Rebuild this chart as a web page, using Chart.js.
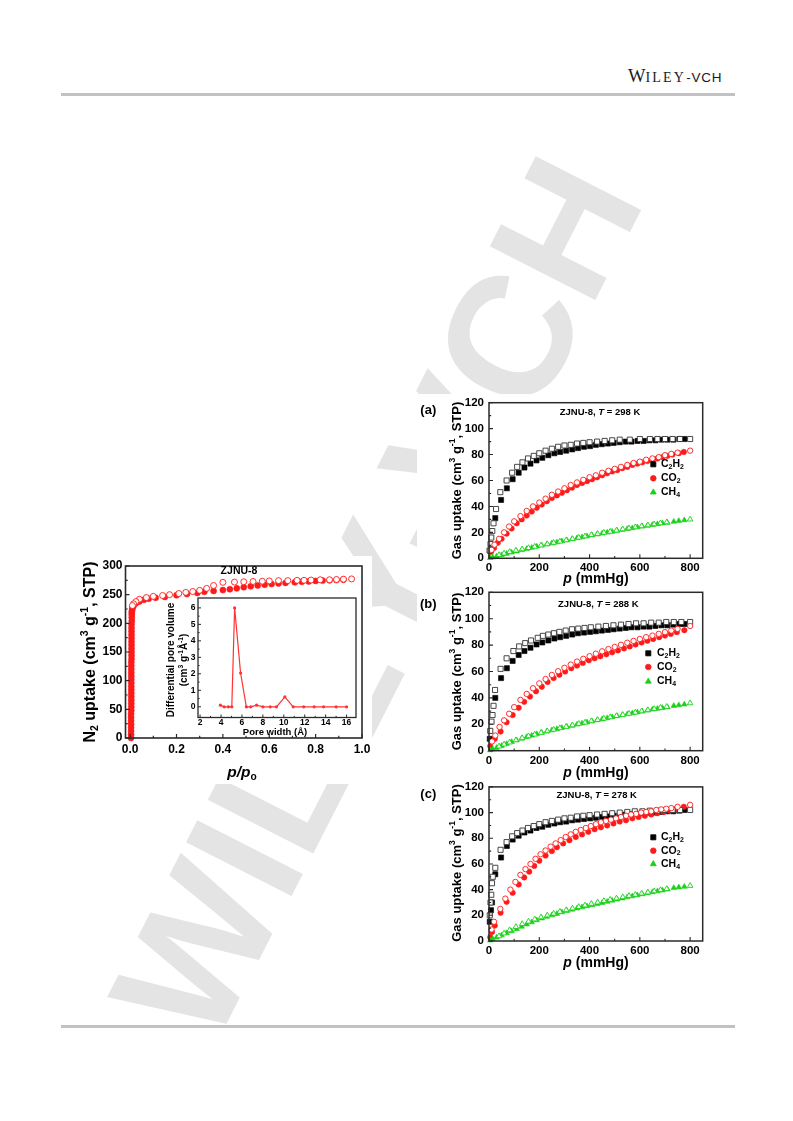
<!DOCTYPE html>
<html><head><meta charset="utf-8">
<script src="https://cdn.jsdelivr.net/npm/chart.js@4/dist/chart.umd.min.js"></script>
<style>
html,body{margin:0;padding:0;background:#fff;}
#page{position:relative;width:793px;height:1121px;overflow:hidden;background:#fff;}
canvas{position:absolute;}
.hl{position:absolute;background:#c2c2c2;height:3px;}
.fig{position:absolute;background:#fff;}
#wm{position:absolute;left:376px;top:598px;transform:translate(-50%,-50%) rotate(-63deg);font:bold 172px "Liberation Sans",Arial,sans-serif;color:#e4e4e4;white-space:nowrap;line-height:1;}
#hdr{position:absolute;left:628px;top:66px;line-height:20px;color:#1a1a1a;white-space:nowrap;}
</style></head>
<body><div id="page">
<div id="wm">WILEY-VCH</div>
<div id="hdr"><span style="font:18.5px 'Liberation Serif',serif;">W</span><span style="font:14px 'Liberation Serif',serif;letter-spacing:2.2px;">ILEY</span><span style="font:13.5px 'Liberation Sans',Arial,sans-serif;letter-spacing:0.8px;">-VCH</span></div>
<div class="hl" style="left:61px;top:93px;width:674px;"></div>
<div class="hl" style="left:61px;top:1025px;width:674px;"></div>
<div class="fig" style="left:76px;top:556px;width:296px;height:228px;"></div>
<div class="fig" style="left:417px;top:394px;width:291px;height:580px;"></div>
<canvas id="cN2" style="left:60px;top:545px;" width="320" height="240"></canvas>
<canvas id="cPSD" style="left:160px;top:590px;" width="205" height="150"></canvas>
<canvas id="cA" style="left:400px;top:380px;" width="320" height="215"></canvas>
<canvas id="cB" style="left:400px;top:580px;" width="320" height="205"></canvas>
<canvas id="cC" style="left:400px;top:775px;" width="320" height="200"></canvas>
</div>
<script>
// ---------------- DATA ----------------
// N2 isotherm at 77 K (x = p/p0, y = uptake)
const n2Ads = [[0.004,0],[0.004,6],[0.004,12],[0.004,18],[0.004,24],[0.004,30],[0.004,36],[0.004,42],[0.005,48],[0.005,54],[0.005,60],[0.005,66],[0.005,72],[0.005,78],[0.005,84],[0.005,90],[0.005,96],[0.005,102],[0.005,108],[0.005,114],[0.005,120],[0.005,126],[0.005,132],[0.006,138],[0.006,144],[0.006,150],[0.006,156],[0.006,162],[0.006,168],[0.006,174],[0.006,180],[0.006,186],[0.006,192],[0.006,198],[0.007,204],[0.007,210],[0.007,215],[0.007,219],[0.008,222],[0.009,225],[0.011,228],[0.015,231],[0.025,235],[0.04,238],[0.06,241],[0.08,243],[0.11,244.5],[0.15,246],[0.2,249],[0.245,251],[0.29,253],[0.32,255],[0.36,256.5],[0.4,258],[0.43,259.5],[0.46,261],[0.49,263],[0.52,264.5],[0.55,266],[0.58,267.5],[0.61,268.5],[0.64,269.5],[0.67,270.5],[0.71,271.5],[0.74,272.5],[0.77,273],[0.8,274],[0.83,274.5],[0.86,275],[0.89,275.5],[0.92,276]];
const n2Des = [[0.955,277.5],[0.92,277],[0.89,276.5],[0.86,276],[0.82,276],[0.78,275.5],[0.75,275],[0.72,275],[0.68,274.5],[0.64,274.5],[0.6,274],[0.57,273.5],[0.53,273],[0.49,272.5],[0.45,272],[0.4,271.5],[0.36,266],[0.33,261],[0.3,257.5],[0.27,255.5],[0.24,254],[0.21,252],[0.17,250],[0.14,248.5],[0.1,247],[0.07,245],[0.04,242],[0.025,238],[0.015,234],[0.01,231]];
// Pore size distribution (inset)
const poreWidth = [3.94,4.3,4.7,5.03,5.3,5.87,6.42,6.84,7.4,8.0,8.7,9.3,10.1,10.9,11.9,12.9,13.8,15.0,16.0];
const poreVolume = [0.1,0,0,0,6.0,2.05,0,0,0.1,0,0,0,0.6,0,0,0,0,0,0];
// Tick labels
const n2XTicks = [0,0.2,0.4,0.6,0.8,1.0];
const n2YTicks = [0,50,100,150,200,250,300];
const psdXTicks = [2,4,6,8,10,12,14,16];
const psdYTicks = [0,1,2,3,4,5,6];
const isoXTicks = [0,200,400,600,800];
const isoYTicks = [0,20,40,60,80,100,120];
const gasLabels = ['C2H2','CO2','CH4'];
const temps = [298,288,278];

// (a) 298 K  [p (mmHg), uptake]
const c2h2Ads298 = [[3,6],[25,31],[48,45],[71,54],[94,61],[118,66],[141,70],[165,73],[189,75.5],[212,77.5],[236,79.5],[260,81],[283,82],[307,83],[331,84],[354,85],[378,86],[402,86.5],[425,87.5],[449,88],[473,88.5],[496,89],[520,89.5],[544,90],[567,90],[591,90.5],[615,90.5],[638,91],[662,91],[686,91.5],[709,91.5],[733,91.5],[757,92],[777,92]];
const c2h2Des298 = [[800,92],[760,92],[730,92],[700,92],[670,92],[640,92],[600,92],[560,91.5],[520,91.5],[490,91],[460,90.5],[430,90],[400,89.5],[375,89],[350,88.5],[325,87.5],[300,87],[275,86],[250,84.5],[225,83],[200,81],[178,79],[155,77],[133,74],[112,70.5],[92,66],[70,60],[45,51],[28,38],[18,27],[13,21],[9,16],[6,11],[3,6]];
const co2Ads298 = [[8,5],[20,8],[35,12],[50,15],[70,19],[90,23],[110,27],[130,30],[150,33],[170,36],[190,39],[210,41.5],[230,44],[250,46.5],[270,48.5],[290,50.5],[310,52.5],[330,54.5],[350,56.5],[370,58],[390,59.5],[410,61],[430,62.5],[450,64],[470,65.5],[490,67],[510,68],[530,69.5],[550,70.5],[570,72],[590,73],[610,74],[630,75],[650,76],[670,77],[690,78],[710,79],[730,80],[755,81],[775,82]];
const co2Des298 = [[800,83],[750,81.5],[725,80.5],[700,79.5],[675,78],[650,77],[625,76],[600,74.5],[575,73.5],[550,72],[525,70.5],[500,69],[475,67.5],[450,66],[425,64],[400,62.5],[375,60.5],[350,58.5],[325,56.5],[300,54],[275,51.5],[250,49],[225,46],[200,43],[175,40],[150,36.5],[125,32.5],[100,28.5],[80,24.5],[60,20],[40,15],[22,10.5],[10,6.5]];
const ch4Ads298 = [[5,0.3],[15,0.8],[30,1.5],[50,2.5],[70,3.5],[90,4.5],[110,5.4],[130,6.4],[150,7.3],[170,8.2],[190,9.1],[210,10],[230,10.8],[250,11.6],[270,12.4],[290,13.2],[310,14],[330,14.8],[350,15.6],[370,16.3],[390,17],[410,17.8],[430,18.5],[450,19.2],[470,19.9],[490,20.6],[510,21.3],[530,22],[550,22.7],[570,23.3],[590,24],[610,24.6],[630,25.2],[650,25.8],[670,26.4],[690,27],[710,27.5],[735,28.3],[755,28.9],[777,29.4]];
const ch4Des298 = [[800,30],[707,27.8],[682,27.1],[657,26.3],[632,25.5],[607,24.8],[582,24],[557,23.2],[532,22.4],[507,21.5],[482,20.6],[457,19.8],[432,18.9],[407,18],[382,17],[357,16],[332,15],[307,14],[282,13],[257,12],[232,11],[207,10],[182,9],[157,8],[132,7],[107,6],[82,5],[60,3.8],[40,2.6]];

// (b) 288 K
const c2h2Ads288 = [[3,9],[25,40],[48,55],[71,62.5],[94,68],[118,72.5],[141,75.5],[165,78],[189,80.5],[212,82],[236,83.5],[260,85],[283,86],[307,87],[331,88],[354,89],[378,89.5],[402,90],[425,90.5],[449,91],[473,91.5],[496,92],[520,92.5],[544,93],[567,93.5],[591,93.5],[615,94],[638,94],[662,94.5],[686,95],[709,95],[733,95.5],[757,96],[777,96]];
const c2h2Des288 = [[800,97.5],[765,97.5],[735,97.5],[705,97.5],[675,97],[645,97],[615,96.5],[585,96.5],[555,96],[525,95.5],[495,95],[465,94.5],[435,94],[405,93.5],[380,93],[355,92.5],[330,92],[305,91],[280,90],[258,89],[236,88],[214,87],[194,85.5],[167,83.5],[144,81.5],[120,79],[97,75.5],[70,70],[46,62],[24,46],[18,34],[14,27],[10,22],[5,15]];
const co2Ads288 = [[5,3.5],[23,9],[46,14.5],[70,21.5],[94,27],[118,32.5],[140,37],[163,41],[187,45],[210,48.5],[233,52],[257,55],[280,57.5],[303,60],[327,62.5],[350,64.5],[373,66.5],[397,68.5],[420,70],[443,71.5],[467,73],[490,74.5],[513,76],[537,77.5],[560,79],[583,80.5],[607,82],[630,83.3],[653,84.6],[677,86],[700,87.2],[723,88.5],[747,89.8],[777,91.3]];
const co2Des288 = [[800,94.5],[750,92.3],[725,91],[700,89.8],[675,88.5],[650,87.2],[625,86],[600,84.6],[575,83.2],[550,81.8],[525,80.2],[500,78.6],[475,77],[450,75.3],[425,73.5],[400,71.6],[375,69.6],[350,67.5],[325,65.2],[300,62.8],[275,60.2],[250,57.4],[225,54.3],[200,51],[175,47.3],[150,43],[125,38.5],[100,33],[80,28],[60,23],[42,18],[25,11.5],[12,7]];
const ch4Ads288 = [[5,0.4],[15,1.1],[30,2.2],[50,3.7],[70,5.2],[90,6.7],[110,8],[130,9.2],[150,10.4],[170,11.5],[190,12.6],[210,13.6],[230,14.6],[250,15.5],[270,16.4],[290,17.3],[310,18.2],[330,19],[350,19.9],[370,20.7],[390,21.5],[410,22.3],[430,23.1],[450,23.9],[470,24.7],[490,25.5],[510,26.3],[530,27],[550,27.7],[570,28.4],[590,29.1],[610,29.8],[630,30.5],[650,31.2],[670,31.8],[690,32.4],[710,33],[735,34],[755,34.5],[777,35.1]];
const ch4Des288 = [[800,36],[707,33.3],[682,32.6],[657,31.7],[632,30.8],[607,29.9],[582,29],[557,28.1],[532,27.2],[507,26.3],[482,25.4],[457,24.4],[432,23.4],[407,22.4],[382,21.4],[357,20.4],[332,19.3],[307,18.2],[282,17.1],[257,16],[232,14.8],[207,13.6],[182,12.3],[157,11],[132,9.6],[107,8],[82,6.3],[60,4.8],[40,3.3]];

// (c) 278 K
const c2h2Ads278 = [[3,15],[8,24],[12,30],[25,52],[48,65],[71,74],[94,79],[118,82],[141,84.5],[165,86],[189,88],[212,89],[236,90.5],[260,91.5],[283,92.5],[307,93],[331,94],[354,94.5],[378,95],[402,95.5],[425,96],[449,96.5],[473,97],[496,97.5],[520,98],[544,98.5],[567,99],[591,99],[615,99.5],[638,100],[662,100],[686,100.5],[709,101],[733,101],[757,101.5],[777,102]];
const c2h2Des278 = [[800,102],[760,102],[730,102],[700,102],[670,101.5],[640,101.5],[610,101],[580,101],[550,100.5],[520,100],[490,99.5],[460,99],[430,98.5],[400,98],[375,97.5],[350,97],[325,96],[300,95.5],[275,94.5],[250,93.5],[225,92.5],[200,91],[178,89.5],[155,88],[133,86],[112,84],[92,81.5],[70,77],[46,71],[25,57],[15,50],[12,45],[9,36],[6,30],[3,20]];
const co2Ads278 = [[5,3],[12,7],[23,12],[46,22],[70,30.5],[94,37.5],[118,44],[140,49.5],[160,54],[180,58.5],[200,62.5],[225,66.5],[250,70],[270,73],[295,76],[320,78.5],[345,81],[370,83],[395,85],[420,87],[445,88.5],[470,90],[495,91.5],[520,93],[545,94],[570,95.5],[595,96.5],[620,97.5],[645,98.5],[670,99.5],[695,100.5],[720,101.5],[745,103],[775,104.5]];
const co2Des278 = [[800,106],[750,104.5],[725,103.5],[705,103],[685,102.5],[665,102],[645,101],[625,100.5],[605,100],[585,99],[565,98.5],[545,97.5],[525,96.5],[505,95.5],[485,94.5],[465,93.5],[445,92.5],[425,91],[405,89.5],[385,88],[365,86.5],[345,85],[325,83],[305,81],[285,78.5],[265,76],[245,73.5],[225,70.5],[205,67.5],[185,64],[165,60],[145,56],[125,51.5],[105,46],[85,40],[65,33],[45,25],[20,15],[10,9]];
const ch4Ads278 = [[5,0.5],[15,1.4],[30,2.8],[50,4.5],[70,6.2],[90,7.7],[110,9.3],[130,11.2],[150,13],[170,14.6],[190,16.2],[210,17.6],[230,18.9],[250,20.1],[270,21.2],[290,22.4],[310,23.5],[330,24.5],[350,25.4],[370,26.3],[390,27.1],[410,27.9],[430,28.8],[450,29.7],[470,30.6],[490,31.5],[510,32.4],[530,33.2],[550,34.1],[570,34.9],[590,35.7],[610,36.5],[630,37.3],[650,38.1],[670,38.8],[690,39.5],[710,40.2],[735,41.3],[755,41.8],[777,42.3]];
const ch4Des278 = [[800,43],[707,40.5],[682,39.7],[657,38.8],[632,37.9],[607,37],[582,36.1],[557,35.2],[532,34.2],[507,33.2],[482,32.2],[457,31.2],[432,30.1],[407,29],[382,27.8],[357,26.6],[332,25.4],[307,24.1],[282,22.8],[257,21.4],[232,20],[207,18.5],[182,16.9],[157,15.2],[132,13.3],[107,11],[82,8.5],[60,6],[40,3.8]];

// ---------------- HELPERS ----------------
const FONT = '"Liberation Sans", Arial, Helvetica, sans-serif';
function drawRich(ctx, t, ox, oy) {
  ctx.save();
  ctx.translate(t.x - ox, t.y - oy);
  if (t.rot) ctx.rotate(t.rot * Math.PI / 180);
  const parts = t.segs.map(seg => {
    const s = seg[0], f = seg[1] || '';
    const small = f.includes('u') || f.includes('d');
    const sz = small ? t.size * 0.66 : t.size;
    const font = (f.includes('i') ? 'italic ' : '') + (t.normal ? '' : 'bold ') + sz + 'px ' + FONT;
    ctx.font = font;
    return {s, font, w: ctx.measureText(s).width,
      dy: f.includes('u') ? -t.size * 0.36 : (f.includes('d') ? t.size * 0.26 : 0)};
  });
  const total = parts.reduce((a, p) => a + p.w, 0);
  let x = t.align === 'left' ? 0 : (t.align === 'right' ? -total : -total / 2);
  ctx.fillStyle = t.color || '#000';
  ctx.textBaseline = 'middle';
  parts.forEach(p => { ctx.font = p.font; ctx.fillText(p.s, x, p.dy); x += p.w; });
  ctx.restore();
}
function marker(ctx, style, x, y, r, color) {
  ctx.save();
  ctx.fillStyle = color; ctx.strokeStyle = color; ctx.lineWidth = 0.8;
  ctx.beginPath();
  if (style === 'rect') { const s = r * Math.SQRT1_2; ctx.rect(x - s, y - s, 2 * s, 2 * s); }
  else if (style === 'circle') { ctx.arc(x, y, r, 0, Math.PI * 2); }
  else { ctx.moveTo(x, y - r); ctx.lineTo(x + r * 0.866, y + r * 0.5); ctx.lineTo(x - r * 0.866, y + r * 0.5); ctx.closePath(); }
  ctx.fill(); ctx.stroke();
  ctx.restore();
}
const deco = {
  id: 'deco',
  afterDraw(chart, args, o) {
    const ctx = chart.ctx, a = chart.chartArea;
    const xs = chart.scales.x, ys = chart.scales.y;
    ctx.save();
    ctx.strokeStyle = '#2a2a2a';
    ctx.lineWidth = o.frameW;
    ctx.strokeRect(a.left, a.top, a.right - a.left, a.bottom - a.top);
    ctx.lineWidth = o.tickW;
    ctx.beginPath();
    o.xMajor.forEach(v => { const p = xs.getPixelForValue(v); ctx.moveTo(p, a.bottom); ctx.lineTo(p, a.bottom - o.tl); });
    o.xMinor.forEach(v => { const p = xs.getPixelForValue(v); ctx.moveTo(p, a.bottom); ctx.lineTo(p, a.bottom - o.tl * 0.55); });
    o.yMajor.forEach(v => { const p = ys.getPixelForValue(v); ctx.moveTo(a.left, p); ctx.lineTo(a.left + o.tl, p); });
    o.yMinor.forEach(v => { const p = ys.getPixelForValue(v); ctx.moveTo(a.left, p); ctx.lineTo(a.left + o.tl * 0.55, p); });
    ctx.stroke();
    ctx.restore();
    (o.texts || []).forEach(t => drawRich(ctx, t, o.ox, o.oy));
    (o.legend || []).forEach(l => {
      marker(ctx, l.style, l.x - o.ox, l.y - o.oy, l.r, l.color);
      drawRich(ctx, {x: l.tx, y: l.y, size: l.size, align: 'left', segs: l.segs}, o.ox, o.oy);
    });
  }
};
function fixedTicks(arr) { return s => { s.ticks = arr.map(v => ({value: v})); }; }
function mids(arr) { const r = []; for (let i = 0; i < arr.length - 1; i++) r.push((arr[i] + arr[i + 1]) / 2); return r; }
function pts(arr) { return arr.map(p => ({x: p[0], y: p[1]})); }
function ds(data, style, color, filled, r, order) {
  return {data: pts(data), showLine: false, pointStyle: style, pointRadius: r, pointHoverRadius: r,
    pointBackgroundColor: filled ? color : '#ffffff', pointBorderColor: color, pointBorderWidth: filled ? 0.6 : 0.9,
    clip: false, order: order};
}
function gasSegs(name) {
  if (name === 'C2H2') return [['C'], ['2', 'd'], ['H'], ['2', 'd']];
  if (name === 'CO2') return [['CO'], ['2', 'd']];
  return [['CH'], ['4', 'd']];
}

// ---------------- N2 CHART ----------------
const n2Box = {left: 60, top: 545, w: 320, h: 240};
new Chart(document.getElementById('cN2'), {
  type: 'scatter',
  data: {datasets: [ds(n2Des, 'circle', '#ff1a1a', false, 3, 1), ds(n2Ads, 'circle', '#ff1a1a', true, 3, 2)]},
  options: {
    responsive: false, animation: false, events: [],
    layout: {padding: {left: 0, top: 21, right: 18, bottom: 0}},
    plugins: {legend: {display: false}, tooltip: {enabled: false},
      deco: {ox: n2Box.left, oy: n2Box.top, frameW: 1.6, tickW: 1.2, tl: 4,
        xMajor: n2XTicks, xMinor: mids(n2XTicks), yMajor: n2YTicks, yMinor: mids(n2YTicks),
        texts: [
          {x: 90.5, y: 652, rot: -90, size: 16, segs: [['N'], ['2', 'd'], [' uptake (cm'], ['3', 'u'], [' g'], ['-1', 'u'], [', STP)']]},
          {x: 242, y: 773, size: 15.5, segs: [['p/p', 'i'], ['o', 'd']]},
          {x: 239, y: 571.5, size: 10.5, segs: [['ZJNU-8']]}
        ]}},
    scales: {
      x: {type: 'linear', min: -0.02, max: 1.0, afterBuildTicks: fixedTicks(n2XTicks), afterFit: s => { s.height = 47; },
        grid: {display: false, drawTicks: false}, border: {display: false},
        ticks: {color: '#000', padding: 4, maxRotation: 0, autoSkip: false, font: {family: FONT, size: 12, weight: 'bold'}, callback: v => v.toFixed(1)}},
      y: {type: 'linear', min: 0, max: 300, afterBuildTicks: fixedTicks(n2YTicks), afterFit: s => { s.width = 65.5; },
        grid: {display: false, drawTicks: false}, border: {display: false},
        ticks: {color: '#000', padding: 3, autoSkip: false, font: {family: FONT, size: 12, weight: 'bold'}}}
    }
  },
  plugins: [deco]
});

// ---------------- INSET PSD ----------------
const psdBox = {left: 160, top: 590};
new Chart(document.getElementById('cPSD'), {
  type: 'scatter',
  data: {datasets: [{data: poreWidth.map((w, i) => ({x: w, y: poreVolume[i]})), showLine: true, borderColor: '#ff3333', borderWidth: 1.2,
    pointRadius: 1.6, pointBackgroundColor: '#ff3333', pointBorderColor: '#ff3333', pointBorderWidth: 0, clip: false}]},
  options: {
    responsive: false, animation: false, events: [],
    layout: {padding: {left: 0, top: 8, right: 9, bottom: 0}},
    plugins: {legend: {display: false}, tooltip: {enabled: false},
      deco: {ox: psdBox.left, oy: psdBox.top, frameW: 1.3, tickW: 1, tl: 3,
        xMajor: psdXTicks, xMinor: mids(psdXTicks), yMajor: psdYTicks, yMinor: mids(psdYTicks),
        texts: [
          {x: 171.5, y: 660, rot: -90, size: 10, segs: [['Differential pore volume']]},
          {x: 184.5, y: 660, rot: -90, size: 10, segs: [['(cm'], ['3', 'u'], [' g'], ['-1', 'u'], ['\u00c5'], ['-1', 'u'], [')']]},
          {x: 275, y: 732.3, size: 9.5, segs: [['Pore width (\u00c5)']]}
        ]}},
    scales: {
      x: {type: 'linear', min: 1.8, max: 16.9, afterBuildTicks: fixedTicks(psdXTicks), afterFit: s => { s.height = 22.5; },
        grid: {display: false, drawTicks: false}, border: {display: false},
        ticks: {color: '#000', padding: 0, maxRotation: 0, autoSkip: false, font: {family: FONT, size: 8.5, weight: 'bold'}}},
      y: {type: 'linear', min: -0.65, max: 6.6, afterBuildTicks: fixedTicks(psdYTicks), afterFit: s => { s.width = 38; },
        grid: {display: false, drawTicks: false}, border: {display: false},
        ticks: {color: '#000', padding: 2.5, autoSkip: false, font: {family: FONT, size: 8.5, weight: 'bold'}}}
    }
  },
  plugins: [deco]
});

// ---------------- ISOTHERM PANELS ----------------
function isoPanel(id, box, area, sets, info) {
  const padTop = area.top - box.top;
  const yW = area.left - box.left;
  const padRight = box.left + box.w - area.right;
  const xH = box.top + box.h - area.bottom;
  const green = '#19d119', red = '#ff1a1a', black = '#000000';
  const datasets = [
    ds(sets.ch4Des, 'triangle', green, false, 3.2, 1),
    ds(sets.co2Des, 'circle', red, false, 2.7, 2),
    ds(sets.c2h2Des, 'rect', '#333333', false, 3.6, 3),
    ds(sets.ch4Ads, 'triangle', green, true, 3.2, 4),
    ds(sets.co2Ads, 'circle', red, true, 2.7, 5),
    ds(sets.c2h2Ads, 'rect', black, true, 3.6, 6)
  ];
  const styles = ['rect', 'circle', 'triangle'], colors = [black, red, green], rs = [3.6, 2.8, 3.4];
  const legend = gasLabels.map((g, i) => ({style: styles[i], color: colors[i], r: rs[i], x: info.lx, y: info.ly[i], tx: info.tx, size: 10.5, segs: gasSegs(g)}));
  new Chart(document.getElementById(id), {
    type: 'scatter',
    data: {datasets},
    options: {
      responsive: false, animation: false, events: [],
      layout: {padding: {left: 0, top: padTop, right: padRight, bottom: 0}},
      plugins: {legend: {display: false}, tooltip: {enabled: false},
        deco: {ox: box.left, oy: box.top, frameW: 1.5, tickW: 1.1, tl: 4,
          xMajor: isoXTicks, xMinor: mids(isoXTicks), yMajor: isoYTicks, yMinor: mids(isoYTicks),
          legend,
          texts: [
            {x: 457.5, y: (area.top + area.bottom) / 2, rot: -90, size: 13, segs: [['Gas uptake (cm'], ['3', 'u'], [' g'], ['-1', 'u'], [', STP)']]},
            {x: 596, y: info.xtY, size: 14, segs: [['p', 'i'], [' (mmHg)']]},
            {x: 428.3, y: info.labY, size: 13, segs: [[info.label]]},
            {x: info.tX, y: info.tY, size: 9.5, segs: [['ZJNU-8, '], ['T', 'i'], [' = ' + info.temp + ' K']]}
          ]}},
      scales: {
        x: {type: 'linear', min: 0, max: 850, afterBuildTicks: fixedTicks(isoXTicks), afterFit: s => { s.height = xH; },
          grid: {display: false, drawTicks: false}, border: {display: false},
          ticks: {color: '#000', padding: 3, maxRotation: 0, autoSkip: false, font: {family: FONT, size: 11.5, weight: 'bold'}}},
        y: {type: 'linear', min: 0, max: 120, afterBuildTicks: fixedTicks(isoYTicks), afterFit: s => { s.width = yW; },
          grid: {display: false, drawTicks: false}, border: {display: false},
          ticks: {color: '#000', padding: 5, autoSkip: false, font: {family: FONT, size: 11.5, weight: 'bold'}}}
      }
    },
    plugins: [deco]
  });
}

isoPanel('cA', {left: 400, top: 380, w: 320, h: 215}, {left: 489, top: 402.7, right: 702.7, bottom: 558.3},
  {c2h2Ads: c2h2Ads298, c2h2Des: c2h2Des298, co2Ads: co2Ads298, co2Des: co2Des298, ch4Ads: ch4Ads298, ch4Des: ch4Des298},
  {label: '(a)', labY: 410.8, temp: temps[0], tX: 600, tY: 412.7, xtY: 579, lx: 653.3, ly: [464.3, 478.3, 492.3], tx: 661});
isoPanel('cB', {left: 400, top: 580, w: 320, h: 205}, {left: 489, top: 592.3, right: 702.7, bottom: 750.7},
  {c2h2Ads: c2h2Ads288, c2h2Des: c2h2Des288, co2Ads: co2Ads288, co2Des: co2Des288, ch4Ads: ch4Ads288, ch4Des: ch4Des288},
  {label: '(b)', labY: 604, temp: temps[1], tX: 598.3, tY: 604, xtY: 772.7, lx: 648.3, ly: [653.3, 667, 681.5], tx: 657});
isoPanel('cC', {left: 400, top: 775, w: 320, h: 200}, {left: 489, top: 785, right: 702.7, bottom: 941},
  {c2h2Ads: c2h2Ads278, c2h2Des: c2h2Des278, co2Ads: co2Ads278, co2Des: co2Des278, ch4Ads: ch4Ads278, ch4Des: ch4Des278},
  {label: '(c)', labY: 794, temp: temps[2], tX: 596.7, tY: 795, xtY: 962.7, lx: 653.3, ly: [837.3, 850.7, 864], tx: 661});
</script>
</body></html>
